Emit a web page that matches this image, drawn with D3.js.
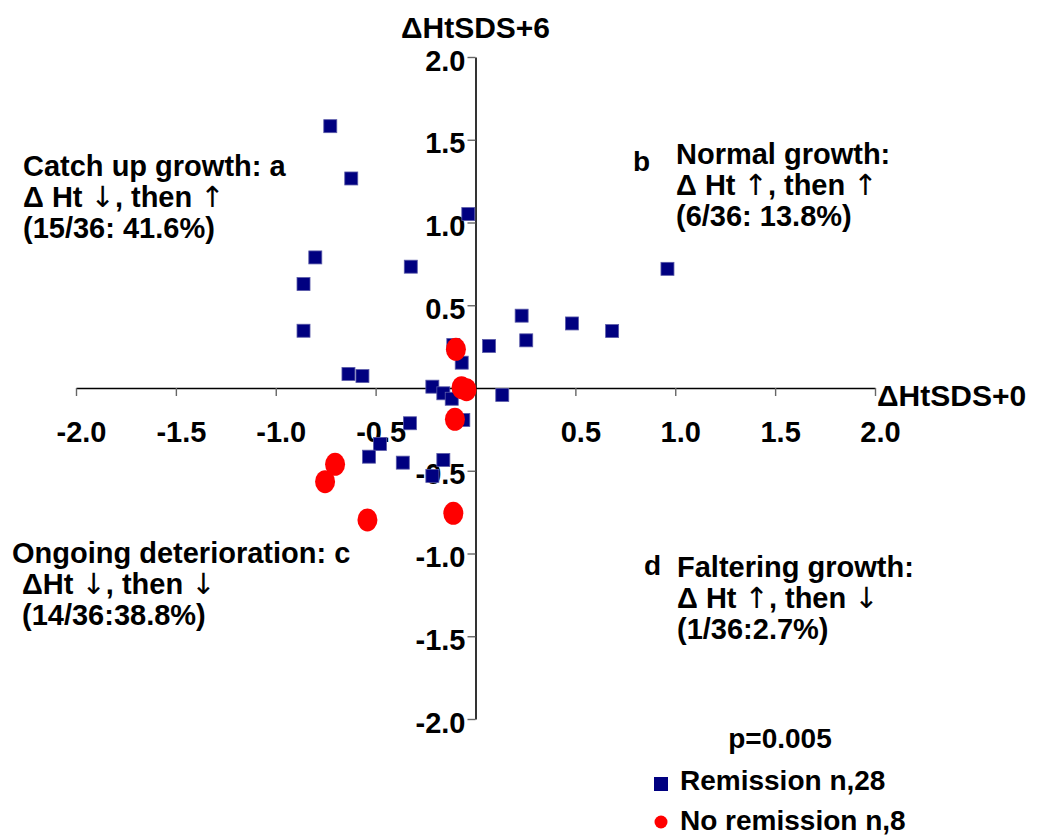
<!DOCTYPE html>
<html>
<head>
<meta charset="utf-8">
<script src="https://cdn.jsdelivr.net/npm/d3@7"></script>
<style>
  html, body { margin: 0; padding: 0; background: #fff; }
  svg { display: block; }
  text { font-family: "Liberation Sans", Arial, "DejaVu Sans", sans-serif; font-weight: bold; fill: #000; }
  tspan.arrow { font-family: "DejaVu Sans", sans-serif; font-weight: normal; fill: #000; }
</style>
</head>
<body>
<svg id="chart" width="1040" height="836"></svg>
<script>
// Change in height SDS: baseline (x) vs. 6-month follow-up (y)
const remissionX = [-0.727, -0.622, -0.036, -0.802, -0.861, -0.324, -0.861, -0.111, -0.069, -0.636,
                    -0.566, -0.216, -0.161, -0.119, 0.068, 0.134, -0.328, -0.478, -0.533, -0.364,
                    -0.161, -0.216, -0.061, 0.231, 0.254, 0.483, 0.684, 0.961];
const remissionY = [1.582, 1.266, 1.051, 0.789, 0.628, 0.733, 0.346, 0.260, 0.153, 0.085,
                    0.072, 0.008, -0.032, -0.065, 0.254, -0.042, -0.213, -0.338, -0.415, -0.451,
                    -0.435, -0.531, -0.193, 0.437, 0.288, 0.390, 0.344, 0.720];
const noRemissionX = [-0.098, -0.070, -0.045, -0.103, -0.703, -0.753, -0.541, -0.111];
const noRemissionY = [0.234, 0.002, -0.010, -0.189, -0.461, -0.566, -0.797, -0.757];

const xTicks = [-2.0, -1.5, -1.0, -0.5, 0.5, 1.0, 1.5, 2.0];
const yTicks = [2.0, 1.5, 1.0, 0.5, -0.5, -1.0, -1.5, -2.0];

const quadrantNotes = [
  { lines: ["Catch up growth: a", "Δ Ht ↓, then ↑", "(15/36: 41.6%)"], x: 23, y: 176, dx: [0, 0, 0] },
  { lines: ["Normal growth:", "Δ Ht ↑, then ↑", "(6/36: 13.8%)"], x: 676, y: 164, dx: [0, 0, 0] },
  { lines: ["Ongoing deterioration: c", "ΔHt ↓, then ↓", "(14/36:38.8%)"], x: 12, y: 563, dx: [0, 10, 10] },
  { lines: ["Faltering growth:", "Δ Ht ↑, then ↓", "(1/36:2.7%)"], x: 677, y: 577, dx: [0, 0, 0] }
];
const cornerLetters = [ { t: "b", x: 633, y: 171 }, { t: "d", x: 644, y: 575 } ];

const fmt = d => d.toFixed(1);
const svg = d3.select("#chart");
const x = d3.scaleLinear().domain([-2, 2]).range([76, 875]);
const y = d3.scaleLinear().domain([-2, 2]).range([719, 57]);

// Axes crossing at the origin
const xAxis = svg.append("g")
  .attr("transform", `translate(0,${y(0)})`)
  .call(d3.axisBottom(x).tickValues(xTicks).tickSize(8).tickSizeOuter(0).tickFormat(fmt));
xAxis.select(".domain").attr("stroke", "#000").attr("stroke-width", 1.6);
xAxis.selectAll(".tick line").attr("stroke", "#666").attr("stroke-width", 1.4);
xAxis.selectAll(".tick text")
  .attr("y", 54).attr("dy", 0).attr("dx", 5)
  .style("font-size", "29px").attr("fill", "#000");

const yAxis = svg.append("g")
  .attr("transform", `translate(${x(0)},0)`)
  .call(d3.axisLeft(y).tickValues(yTicks).tickSize(8).tickSizeOuter(0).tickFormat(fmt));
yAxis.select(".domain").attr("stroke", "#000").attr("stroke-width", 1.6);
yAxis.selectAll(".tick line").attr("stroke", "#666").attr("stroke-width", 1.4);
yAxis.selectAll(".tick text")
  .attr("x", -10).attr("dy", 0).attr("y", 13)
  .style("font-size", "29px").attr("fill", "#000");

// Axis titles
svg.append("text").attr("x", x(0)).attr("y", 38).attr("text-anchor", "middle")
  .style("font-size", "30px").text("ΔHtSDS+6");
svg.append("text").attr("x", 877).attr("y", 406)
  .style("font-size", "30px").text("ΔHtSDS+0");

// Points: remission (squares) and no remission (ellipses)
const sq = 13;
svg.append("g").selectAll("rect")
  .data(d3.range(remissionX.length))
  .join("rect")
  .attr("x", i => x(remissionX[i]) - sq / 2)
  .attr("y", i => y(remissionY[i]) - sq / 2)
  .attr("width", sq).attr("height", sq)
  .attr("fill", "#000080").attr("stroke", "#5a5aa8").attr("stroke-width", 0.8);

svg.append("g").selectAll("ellipse")
  .data(d3.range(noRemissionX.length))
  .join("ellipse")
  .attr("cx", i => x(noRemissionX[i]))
  .attr("cy", i => y(noRemissionY[i]))
  .attr("rx", 10).attr("ry", 11.5)
  .attr("fill", "#ff0000");

// Quadrant descriptions; arrow glyphs set in a font that has them
quadrantNotes.forEach(n => {
  const t = svg.append("text").style("font-size", "29px");
  n.lines.forEach((line, i) => {
    const row = t.append("tspan").attr("x", n.x + n.dx[i]).attr("y", n.y + i * 31);
    line.split(/([↑↓])/).filter(s => s.length).forEach(part => {
      const s = row.append("tspan").text(part);
      if (part === "↑" || part === "↓") s.attr("class", "arrow");
    });
  });
});
cornerLetters.forEach(c => {
  svg.append("text").attr("x", c.x).attr("y", c.y).style("font-size", "28px").text(c.t);
});

// Legend
svg.append("text").attr("x", 780).attr("y", 748).attr("text-anchor", "middle")
  .style("font-size", "28px").text("p=0.005");
svg.append("rect").attr("x", 654).attr("y", 777).attr("width", 14).attr("height", 14)
  .attr("fill", "#000080");
svg.append("text").attr("x", 680).attr("y", 790).style("font-size", "28px").text("Remission n,28");
svg.append("ellipse").attr("cx", 661).attr("cy", 822).attr("rx", 6.5).attr("ry", 6.5)
  .attr("fill", "#ff0000");
svg.append("text").attr("x", 680).attr("y", 830).style("font-size", "28px").text("No remission n,8");
</script>
</body>
</html>
